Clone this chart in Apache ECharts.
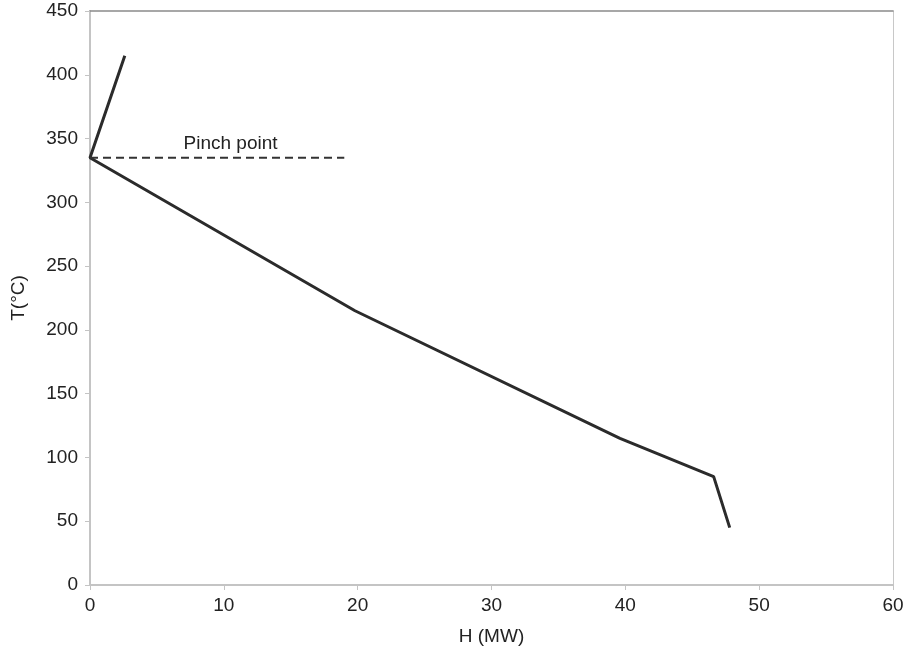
<!DOCTYPE html>
<html><head><meta charset="utf-8">
<script src="https://cdn.jsdelivr.net/npm/echarts@6/dist/echarts.min.js"></script>
<style>html,body{margin:0;padding:0;background:#fff}#c{width:909px;height:651px}</style>
</head><body><div id="c"></div>
<script>
const curveH = [2.6, 0, 19.8, 39.6, 46.6, 47.8];
const curveT = [415, 335, 215, 115, 85, 45];
const pinchH = [0, 19];
const pinchT = [335, 335];
const pinchLabel = "Pinch point";
const pinchLabelPos = [10.5, 346];
const xTicks = [0, 10, 20, 30, 40, 50, 60];
const yTicks = [0, 50, 100, 150, 200, 250, 300, 350, 400, 450];

const chart = echarts.init(document.getElementById('c'));
const font = 'Liberation Sans, Arial, sans-serif';
chart.setOption({
  animation: false,
  grid: {left: 90, right: 16, top: 11, bottom: 66, outerBoundsMode: 'none', containLabel: false},
  xAxis: [{
    type: 'value', min: xTicks[0], max: xTicks[xTicks.length-1], interval: 10,
    name: 'H (MW)', nameLocation: 'middle', nameGap: 42,
    nameTextStyle: {fontFamily: font, fontSize: 19, color: '#222'},
    axisLine: {show: true, lineStyle: {color: '#c4c4c4', width: 2}},
    axisTick: {show: true, length: 5, lineStyle: {color: '#c4c4c4'}},
    axisLabel: {fontFamily: font, fontSize: 19, color: '#222', margin: 11},
    splitLine: {show: false}
  }, {
    type: 'value', position: 'top', min: 0, max: 60,
    axisLine: {show: true, onZero: false, lineStyle: {color: '#8a8a8a', width: 1.5}},
    axisTick: {show: false}, axisLabel: {show: false}, splitLine: {show: false}
  }],
  yAxis: [{
    type: 'value', min: yTicks[0], max: yTicks[yTicks.length-1], interval: 50,
    name: 'T(°C)', nameLocation: 'middle', nameGap: 62, nameRotate: 90,
    nameTextStyle: {fontFamily: font, fontSize: 19, color: '#222'},
    axisLine: {show: true, lineStyle: {color: '#c4c4c4', width: 2}},
    axisTick: {show: true, length: 5, lineStyle: {color: '#c4c4c4'}},
    axisLabel: {fontFamily: font, fontSize: 19, color: '#222', margin: 12},
    splitLine: {show: false}
  }, {
    type: 'value', position: 'right', min: 0, max: 450,
    axisLine: {show: true, onZero: false, lineStyle: {color: '#c8c8c8', width: 1}},
    axisTick: {show: false}, axisLabel: {show: false}, splitLine: {show: false}
  }],
  series: [{
    type: 'line', showSymbol: false, symbol: 'none',
    data: curveH.map((h, i) => [h, curveT[i]]),
    lineStyle: {color: '#2b2b2b', width: 3}
  }, {
    type: 'line', showSymbol: false, symbol: 'none',
    data: pinchH.map((h, i) => [h, pinchT[i]]),
    lineStyle: {color: '#333', width: 2, type: [8, 5]}
  }, {
    type: 'scatter', symbolSize: 1, itemStyle: {opacity: 0},
    label: {show: true, position: 'top', distance: -10, formatter: pinchLabel,
      fontFamily: font, fontSize: 19, color: '#222', opacity: 1},
    data: [pinchLabelPos]
  }]
});
</script></body></html>
